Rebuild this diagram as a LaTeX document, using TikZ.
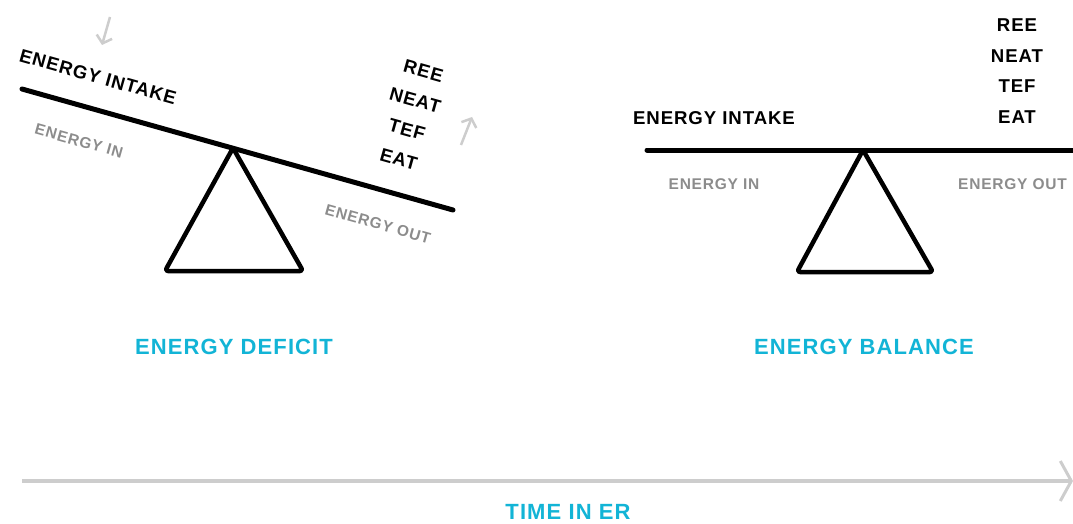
\documentclass[tikz,border=0pt]{standalone}
\usepackage{fontspec}
\setmainfont{Liberation Sans}
\newfontfamily\capsfont{Liberation Sans Bold}[LetterSpace=5]
\usetikzlibrary{arrows.meta}
\definecolor{erblue}{HTML}{12B4D6}
\definecolor{ergray}{HTML}{8C8C8C}
\definecolor{erlight}{HTML}{CDCDCD}
\tikzset{
  beam/.style={line width=5pt, line cap=round},
  stand/.style={line width=4.5pt, rounded corners=3pt, line join=round},
  big/.style={font=\capsfont\fontsize{18.6}{30.5}\selectfont, align=center, inner sep=0pt},
  small/.style={font=\capsfont\fontsize{15.5}{19}\selectfont, text=ergray, inner sep=0pt},
  caption/.style={font=\capsfont\fontsize{22}{26}\selectfont, text=erblue, inner sep=0pt},
  nudge/.style={erlight, line width=2.5pt, -{Straight Barb[length=7pt,width=16pt]}},
}
\begin{document}
\begin{tikzpicture}[x=1pt,y=-1pt]
  \useasboundingbox (0,0) rectangle (1073,524);
  \clip (0,0) rectangle (1073,524);
  % deficit: tilted seesaw
  \coordinate (dleft) at (22,89);
  \coordinate (dright) at (453,210);
  \coordinate (dapex) at (233,148);
  \draw[beam] (dleft) -- (dright);
  \draw[stand] (dapex) -- (165,271) -- (303,271) -- cycle;
  \node[big, rotate=-15.7] (dintake) at (98,77) {ENERGY INTAKE};
  \node[small, rotate=-15.7] (din) at (79,141) {ENERGY IN};
  \node[small, rotate=-15.7] (dout) at (378,224) {ENERGY OUT};
  \node[big, rotate=-15.7] (dcost) at (411,115) {REE\\NEAT\\TEF\\EAT};
  \coordinate (ddown1) at (110,17);
  \coordinate (ddown2) at (102,45);
  \draw[nudge] (ddown1) -- (ddown2);
  \coordinate (dup1) at (461,145);
  \coordinate (dup2) at (472,117);
  \draw[nudge] (dup1) -- (dup2);
  \node[caption] (deficit) at (234,347) {ENERGY DEFICIT};
  % balance: level seesaw
  \coordinate (bleft) at (647,150);
  \coordinate (bright) at (1085,150);
  \coordinate (bapex) at (863,150);
  \draw[beam] (bleft) -- (bright);
  \draw[stand] (bapex) -- (797,272) -- (933,272) -- cycle;
  \node[big] (bintake) at (714,118) {ENERGY INTAKE};
  \node[small] (bin) at (714,184) {ENERGY IN};
  \node[small, anchor=west] (bout) at (958,184) {ENERGY OUT};
  \node[big] (bcost) at (1017,71) {REE\\NEAT\\TEF\\EAT};
  \node[caption] (balance) at (864,347) {ENERGY BALANCE};
  % time axis
  \coordinate (tstart) at (22,481);
  \coordinate (tend) at (1073,481);
  \draw[erlight, line width=4pt, -{Straight Barb[length=11pt,width=40pt,line width=3pt]}] (tstart) -- (tend);
  \node[caption] (time) at (568,512) {TIME IN ER};
\end{tikzpicture}
\end{document}
